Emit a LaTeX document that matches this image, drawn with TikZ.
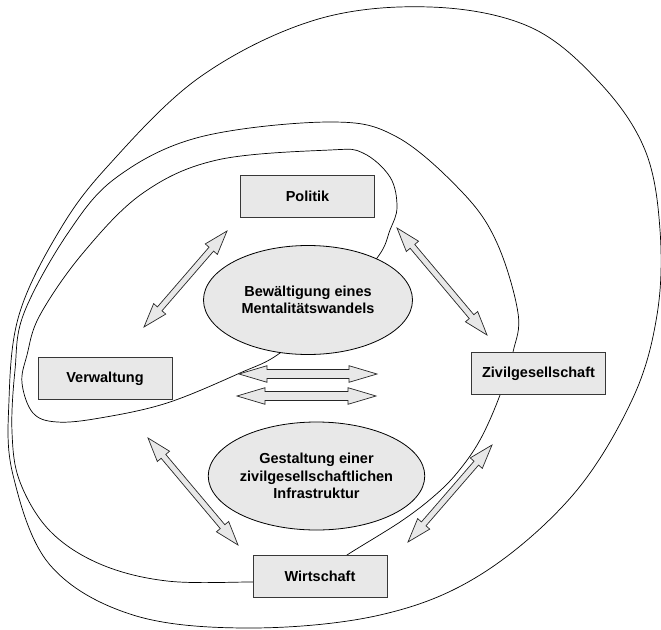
\documentclass[tikz,border=0pt]{standalone}
\usepackage{fontspec}
\setmainfont{Liberation Sans}
\usetikzlibrary{calc,shapes.geometric}
\definecolor{boxfill}{RGB}{232,232,232}
\definecolor{boxline}{RGB}{55,55,55}
% double arrow between two named coordinates: A, B, head length, head half width, shaft half width
\newcommand\dbarrow[5]{%
  \draw[arrowshape] (#1)
    -- ($(#1)!#3!(#2)!#4!90:(#2)$) -- ($(#1)!#3!(#2)!#5!90:(#2)$)
    -- ($(#2)!#3!(#1)!#5!-90:(#1)$) -- ($(#2)!#3!(#1)!#4!-90:(#1)$)
    -- (#2)
    -- ($(#2)!#3!(#1)!#4!90:(#1)$) -- ($(#2)!#3!(#1)!#5!90:(#1)$)
    -- ($(#1)!#3!(#2)!#5!-90:(#2)$) -- ($(#1)!#3!(#2)!#4!-90:(#2)$)
    -- cycle;}
\begin{document}
\begin{tikzpicture}[x=1pt,y=-1pt,
  curve/.style={draw=black, line width=0.7pt},
  arrowshape/.style={draw=black!85, fill=boxfill, line width=0.7pt, line join=miter},
  labelfont/.style={font=\bfseries\fontsize{14.5}{17.3}\selectfont},
  box/.style={draw=boxline, fill=boxfill, line width=1pt, minimum width=134pt,
    minimum height=42pt, inner sep=0pt, labelfont},
  ell/.style={ellipse, draw=black, fill=boxfill, line width=0.8pt, inner sep=0pt,
    align=center, labelfont}]
\useasboundingbox (0,0) rectangle (661,629);

% outer closed curve
\draw[curve] plot[smooth cycle, tension=0.6] coordinates {
  (430,7) (530,27) (600,83) (645,150) (660,230) (657,315) (632,400)
  (572,496) (480,575) (380,615) (250,628) (133,615) (50,565) (13,475)
  (9,400) (19,315) (58,233) (107,167) (200,77) (315,20)};

% second curve (ends hidden under Wirtschaft)
\draw[curve] plot[smooth, tension=0.6] coordinates {
  (275,582) (253,582) (167,581) (100,564) (50,531) (20,482) (12,432)
  (15,370) (24,313) (68,233) (117,177) (200,137) (330,122) (397,137)
  (463,193) (497,243) (518,313) (513,352) (500,395) (480,440)
  (457,473) (433,497) (400,522) (347,555) (330,568)};

% inner loop (partly hidden behind the upper ellipse)
\draw[curve] plot[smooth cycle, tension=0.6] coordinates {
  (330,150) (363,153) (390,177) (397,207) (390,230) (377,258) (330,308)
  (280,353) (240,373) (167,403) (100,418) (57,422) (33,413) (22,383)
  (27,355) (40,315) (83,253) (143,193) (217,160)};

% arrow end points
\coordinate (pv1) at (227,231); \coordinate (pv2) at (144,327);
\coordinate (pz1) at (397,228); \coordinate (pz2) at (487,335);
\coordinate (vw1) at (148,438); \coordinate (vw2) at (238,545);
\coordinate (zw1) at (492,445); \coordinate (zw2) at (408,542);
\coordinate (ha1) at (239,374); \coordinate (ha2) at (377,374);
\coordinate (hb1) at (237,396); \coordinate (hb2) at (376,396);

\dbarrow{pv1}{pv2}{24pt}{8pt}{3pt}
\dbarrow{pz1}{pz2}{24pt}{8pt}{3pt}
\dbarrow{vw1}{vw2}{24pt}{8pt}{3pt}
\dbarrow{zw1}{zw2}{24pt}{8pt}{3pt}
\dbarrow{ha1}{ha2}{28pt}{8.3pt}{4.5pt}
\dbarrow{hb1}{hb2}{28pt}{8.3pt}{4.5pt}

% ellipses
\node[ell, minimum width=209pt, minimum height=109pt] (bew) at (308,300)
  {Bewältigung eines\\Mentalitätswandels};
\node[ell, minimum width=207pt, minimum height=108pt] (gest) at (316.5,476)
  {Gestaltung einer\\zivilgesellschaftlichen\\Infrastruktur};

% boxes
\node[box] (politik) at (307.5,196.5) {Politik};
\node[box] (verw) at (105,378.5) {Verwaltung};
\node[box] (zivil) at (538.5,373.5) {Zivilgesellschaft};
\node[box] (wirt) at (320,576) {Wirtschaft};
\end{tikzpicture}
\end{document}
